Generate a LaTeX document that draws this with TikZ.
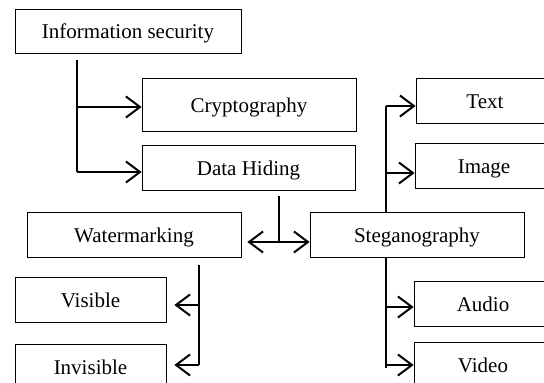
\documentclass[tikz,border=0pt]{standalone}
\usepackage{fontspec}
\setmainfont{Liberation Serif}
\usetikzlibrary{arrows.meta,backgrounds}
\begin{document}
\begin{tikzpicture}[x=1pt,y=-1pt,
  box/.style={draw,line width=0.8pt,fill=white,inner sep=0pt,
    minimum height=45pt,text height=15pt,text depth=0pt,
    font=\fontsize{21}{24}\selectfont},
  link/.style={line width=2pt},
  arr/.style={link,-{Straight Barb[length=14pt,width=21pt]}},
  darr/.style={link,{Straight Barb[length=14pt,width=21pt]}-{Straight Barb[length=14pt,width=21pt]}}]
\useasboundingbox (0,0) rectangle (544,383);

% boxes
\node[box,minimum width=226pt,minimum height=44pt] (info) at (128,31) {Information security};
\node[box,minimum width=214pt,minimum height=53pt] (crypto) at (249,104.5) {Cryptography};
\node[box,minimum width=213pt] (hiding) at (248.5,167.5) {Data Hiding};
\node[box,minimum width=214pt] (water) at (134,234.5) {Watermarking};
\node[box,minimum width=214pt] (stego) at (417,234.5) {Steganography};
\node[box,minimum width=151pt] (visible) at (90.5,299.5) {Visible};
\node[box,minimum width=151pt] (invisible) at (90.5,366.5) {Invisible};
\node[box,minimum width=138pt] (text) at (485,100.5) {Text};
\node[box,minimum width=138pt] (image) at (484,165.5) {Image};
\node[box,minimum width=138pt] (audio) at (483,303.5) {Audio};
\node[box,minimum width=138pt] (video) at (483,364.5) {Video};

% branch points
\coordinate (a0) at (77,60);
\coordinate (a1) at (77,107);
\coordinate (a2) at (77,172);
\coordinate (d0) at (279,196);
\coordinate (d1) at (279,242);
\coordinate (b0) at (386,106);
\coordinate (b1) at (386,173);
\coordinate (b2) at (386,307);
\coordinate (b3) at (386,365);
\coordinate (b4) at (386,368);
\coordinate (c0) at (199,265);
\coordinate (c1) at (199,305);
\coordinate (c2) at (199,365);

\begin{scope}[on background layer]
  % information security -> cryptography, data hiding
  \draw[link] (a0) -- (a2);
  \draw[arr] (a1) -- (a1 -| crypto.west);
  \draw[arr] (a2) -- (a2 -| hiding.west);
  % data hiding -> watermarking, steganography
  \draw[link] (d0) -- (d1);
  \draw[darr] ([xshift=6pt]water.east |- d1) -- (stego.west |- d1);
  % steganography -> media
  \draw[link] (b4) -- (b0);
  \draw[arr] (b0) -- (b0 -| text.west);
  \draw[arr] (b1) -- (b1 -| image.west);
  \draw[arr] (b2) -- (b2 -| audio.west);
  \draw[arr] (b3) -- (b3 -| video.west);
  % watermarking -> visible, invisible
  \draw[link] (c0) -- (c2);
  \draw[arr] (c1) -- ([xshift=8pt]visible.east |- c1);
  \draw[arr] (c2) -- ([xshift=8pt]invisible.east |- c2);
\end{scope}
\end{tikzpicture}
\end{document}
